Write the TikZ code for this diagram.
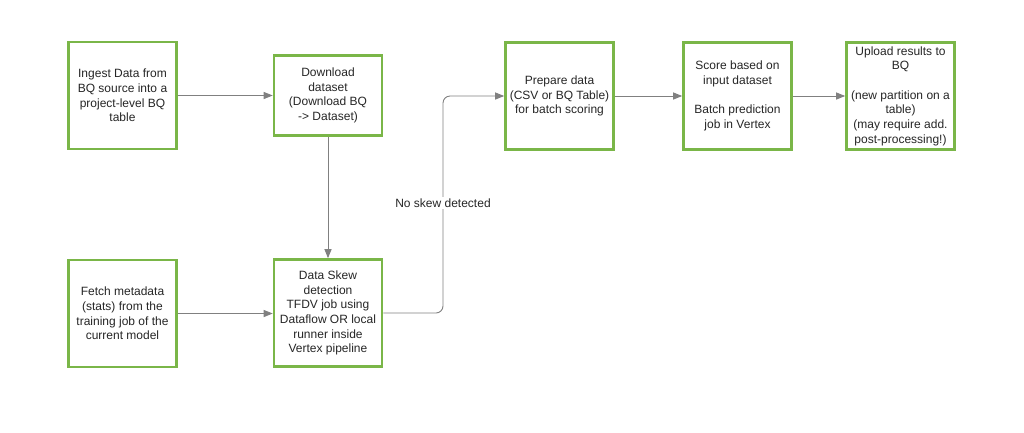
\documentclass[tikz,border=0pt]{standalone}
\usepackage{fontspec}
\setmainfont{Liberation Sans}
\usetikzlibrary{arrows.meta}
\definecolor{boxgreen}{HTML}{7AB648}
\definecolor{linegray}{HTML}{808080}
\tikzset{
  x=1pt,y=-1pt,
  stepbox/.style={draw=boxgreen, line width=2.6pt, fill=white, minimum width=108pt, minimum height=107pt,
    align=center, font=\fontsize{12}{14.7}\selectfont, inner sep=2pt, text=black!85},
  conn/.style={draw=linegray, line width=0.9pt, -{Triangle[length=9pt,width=7pt]}, rounded corners=7pt},
  lbl/.style={fill=white, font=\fontsize{12}{14.7}\selectfont, text=black!85, inner sep=2pt}
}
\begin{document}
\begin{tikzpicture}
\useasboundingbox (0,0) rectangle (1024,432);
\fill[white] (0,0) rectangle (1024,432);
\node[stepbox] (ingest) at (122.5,95.5) {Ingest Data from\\BQ source into a\\project-level BQ\\table};
\node[stepbox, minimum height=80pt] (download) at (328,95.5) {Download\\dataset\\(Download BQ\\-> Dataset)};
\node[stepbox] (prepare) at (559.5,96) {Prepare data\\(CSV or BQ Table)\\for batch scoring};
\node[stepbox] (score) at (737.5,96) {Score based on\\input dataset\\[14.7pt]Batch prediction\\job in Vertex};
\node[stepbox] (upload) at (900.5,96) {Upload results to\\BQ\\[14.7pt](new partition on a\\table)\\(may require add.\\post-processing!)};
\node[stepbox] (fetch) at (122.5,313.5) {Fetch metadata\\(stats) from the\\training job of the\\current model};
\node[stepbox] (skew) at (328,313) {Data Skew\\detection\\TFDV job using\\Dataflow OR local\\runner inside\\Vertex pipeline};
\coordinate (bend) at (443,0);
\draw[conn] (ingest.east |- download.west) -- (download.west);
\draw[conn] (download.south) -- (skew.north);
\draw[conn] (fetch.east) -- (skew.west |- fetch.east);
\draw[conn] (skew.east) -- (bend |- skew.east) -- (bend |- prepare.west) -- (prepare.west);
\draw[conn] (prepare.east) -- (score.west);
\draw[conn] (score.east) -- (upload.west);
\node[lbl] (noskew) at (443,203) {No skew detected};
\end{tikzpicture}
\end{document}
